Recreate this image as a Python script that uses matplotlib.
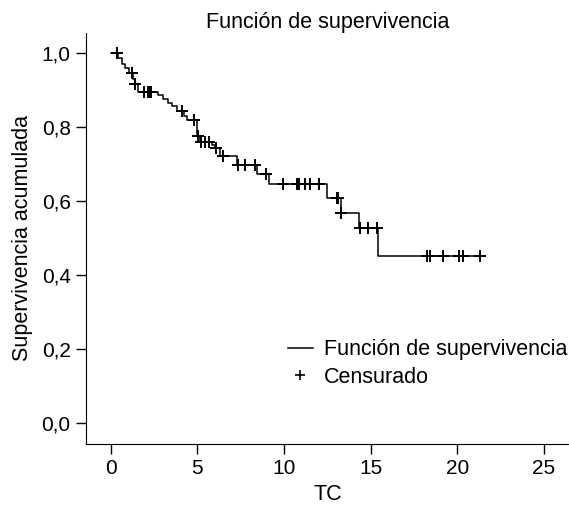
import matplotlib
matplotlib.use("Agg")
import matplotlib.pyplot as plt
import numpy as np
from matplotlib.lines import Line2D

plt.rcParams['font.family'] = ['Liberation Sans', 'DejaVu Sans']

# Kaplan-Meier curve: event times and survival after each event
event_t = [0.0, 0.45, 0.65, 0.85, 1.05, 1.3, 1.4, 1.56, 2.75, 3.0, 3.3, 3.55, 3.8,
           4.23, 4.4, 4.96, 5.0, 5.15, 5.83, 6.0, 6.31, 7.27, 8.46, 9.15, 12.5,
           13.27, 14.33, 15.4, 21.4]
surv = [1.0, 0.985, 0.97, 0.958, 0.945, 0.93, 0.915, 0.895, 0.885, 0.875, 0.865,
        0.855, 0.843, 0.83, 0.818, 0.795, 0.775, 0.76, 0.751, 0.742, 0.72, 0.697,
        0.672, 0.645, 0.607, 0.568, 0.526, 0.45, 0.45]

# censored observations
cens_t = [0.34, 1.21, 1.42, 1.9, 2.13, 2.2, 2.3, 4.09, 4.83, 5.06, 5.21, 5.44,
          5.67, 6.06, 6.5, 7.37, 7.75, 8.33, 8.96, 9.96, 10.73, 10.87, 11.23,
          11.52, 12.04, 13.04, 13.1, 13.3, 14.4, 14.83, 15.35, 18.23, 18.42,
          19.15, 20.12, 20.31, 21.3]

# survival at each censored time
idx = np.searchsorted(event_t, cens_t, side="right") - 1
cens_s = np.array(surv)[idx]

fig = plt.figure(figsize=(5.69, 5.05), dpi=100)
ax = fig.add_axes([0.151, 0.121, 0.849, 0.814])

ax.step(event_t, surv, where="post", color="black", lw=1.1)
ax.plot(cens_t, cens_s, "k+", ms=9, mew=1.4)

ax.set_xlim(-1.43, 26.45)
ax.set_ylim(-0.057, 1.054)
ax.set_xticks([0, 5, 10, 15, 20, 25])
ax.set_yticks([0.0, 0.2, 0.4, 0.6, 0.8, 1.0])
ax.set_yticklabels(["0,0", "0,2", "0,4", "0,6", "0,8", "1,0"])
ax.tick_params(labelsize=15, length=7, width=1, direction="out", pad=4)
for s in ["top", "right"]:
    ax.spines[s].set_visible(False)

ax.set_title("Función de supervivencia", fontsize=15.5, pad=3)
ax.set_xlabel("TC", fontsize=15.5, labelpad=4)
ax.set_ylabel("Supervivencia acumulada", fontsize=15.5, labelpad=6)

handles = [Line2D([], [], color="black", lw=1.1),
           Line2D([], [], color="black", marker="+", ls="none", ms=7, mew=1.2)]
ax.legend(handles, ["Función de supervivencia", "Censurado"], loc="upper right",
          bbox_to_anchor=(1.037, 0.302), frameon=False, fontsize=15.5,
          handlelength=1.2, handletextpad=0.5, labelspacing=0.3)

fig.savefig("out.png")
